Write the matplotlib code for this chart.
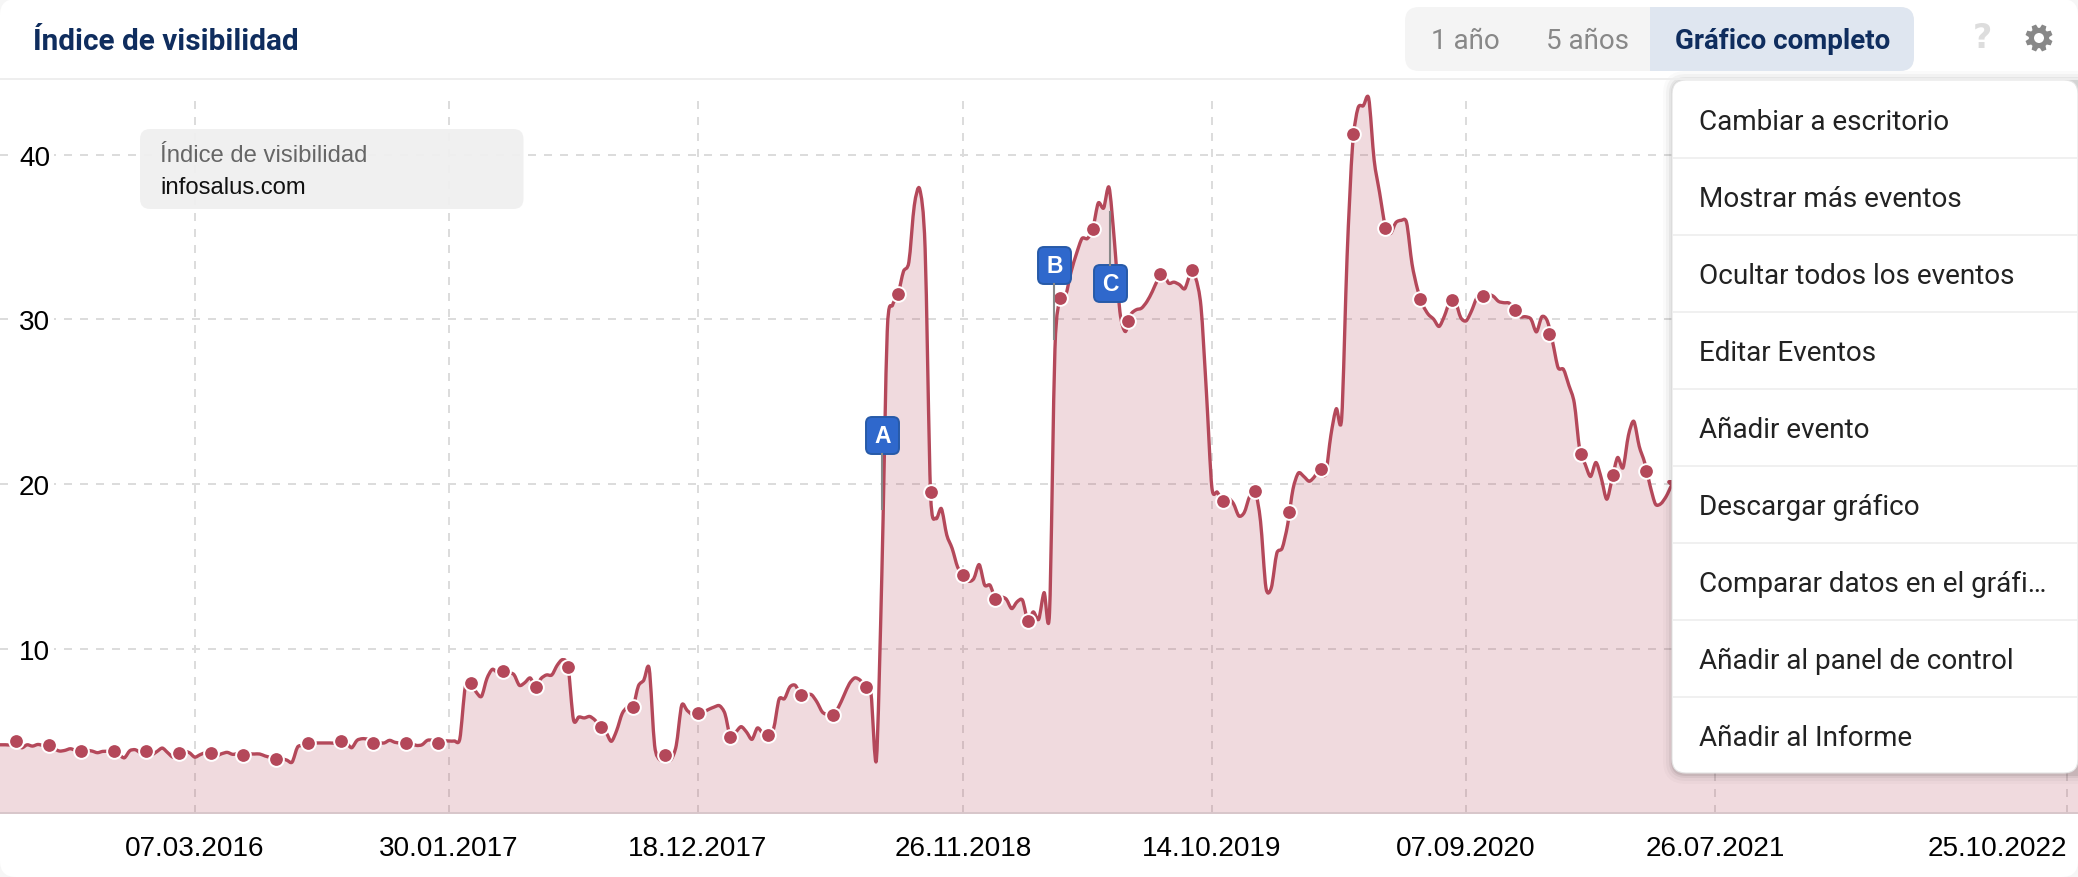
"""Índice de visibilidad chart for infosalus.com, with the toolbar and open menu."""
import matplotlib

matplotlib.use("Agg")
import matplotlib.dates as mdates
import matplotlib.pyplot as plt
import numpy as np
import pandas as pd
from matplotlib.patches import Circle, FancyBboxPatch, PathPatch, Polygon, Rectangle
from matplotlib.path import Path

W, H = 2078, 878
BASE_Y = 814.3     # image row of value 0
PX_PER_UNIT = 16.47
LINE = "#b4485a"
NAVY = "#0f2d5e"
SANS = "Liberation Sans"
ROBOTO = "Roboto"

START = pd.Timestamp("2015-06-29")  # weekly series, one value per Monday

VALUES = [
    4.16, 4.16, 4.16, 4.30, 3.98, 4.16, 4.08, 4.18, 4.12, 4.14,
    3.92, 3.78, 3.82, 3.92, 3.82, 3.78, 3.82, 3.78, 3.68, 3.76,
    3.76, 3.76, 3.56, 3.37, 3.80, 3.86, 3.68, 3.78, 3.56, 3.75,
    3.96, 3.68, 3.41, 3.66, 3.76, 3.68, 3.41, 3.56, 3.68, 3.66,
    3.50, 3.62, 3.70, 3.58, 3.62, 3.54, 3.60, 3.60, 3.60, 3.48,
    3.39, 3.29, 3.31, 3.23, 3.11, 4.02, 4.12, 4.27, 4.27, 4.27,
    4.27, 4.27, 4.27, 4.39, 4.29, 3.98, 4.43, 4.53, 4.49, 4.27,
    4.29, 4.27, 4.43, 4.31, 4.27, 4.27, 4.23, 4.12, 4.16, 4.43,
    4.43, 4.27, 4.39, 4.39, 4.39, 4.53, 7.67, 7.89, 7.37, 7.10,
    8.18, 8.74, 8.54, 8.66, 8.54, 8.42, 7.77, 7.93, 8.22, 7.69,
    8.18, 8.40, 8.40, 8.99, 9.33, 8.89, 5.68, 5.85, 5.79, 5.88,
    5.65, 5.24, 4.93, 4.37, 5.04, 6.05, 6.45, 6.45, 7.73, 8.08,
    8.78, 4.12, 3.25, 3.40, 3.25, 4.12, 6.55, 6.25, 5.99, 6.09,
    6.15, 6.31, 6.45, 6.53, 6.05, 4.65, 4.93, 5.26, 4.93, 4.49,
    5.18, 4.87, 4.77, 5.14, 6.92, 6.96, 7.67, 7.77, 7.20, 7.20,
    7.20, 6.76, 6.15, 5.99, 5.99, 6.45, 7.16, 7.87, 8.22, 8.08,
    7.67, 7.26, 3.27, 14.46, 29.25, 30.87, 31.52, 32.90, 33.47, 36.90,
    37.90, 34.30, 19.48, 17.90, 18.50, 16.90, 16.08, 14.96, 14.46, 14.09,
    14.25, 15.10, 13.86, 13.85, 13.04, 13.14, 13.00, 12.43, 12.84, 12.94,
    11.70, 12.23, 11.78, 13.40, 12.20, 28.20, 31.26, 31.48, 32.90, 34.00,
    34.90, 34.90, 35.50, 37.05, 36.75, 38.00, 34.70, 30.47, 29.25, 30.27,
    30.57, 30.67, 31.07, 31.68, 32.40, 32.80, 32.19, 32.25, 32.10, 31.85,
    32.70, 32.50, 30.75, 25.55, 19.80, 19.50, 19.00, 19.14, 18.80, 18.05,
    18.27, 19.25, 19.57, 17.73, 13.70, 13.70, 15.78, 16.10, 17.50, 19.68,
    20.66, 20.45, 20.16, 20.45, 20.98, 20.55, 22.94, 24.56, 24.00, 33.80,
    40.50, 42.80, 42.96, 43.40, 39.66, 37.70, 35.75, 35.20, 35.86, 36.00,
    35.86, 33.36, 31.84, 30.86, 30.30, 30.00, 29.56, 30.20, 31.08, 31.08,
    30.10, 29.90, 30.50, 31.30, 31.40, 31.50, 31.40, 31.08, 31.00, 30.97,
    30.54, 30.15, 30.15, 30.00, 29.23, 30.15, 29.90, 28.60, 27.06, 26.95,
    25.98, 24.90, 22.07, 21.20, 20.45, 21.30, 20.33, 19.07, 20.33, 21.60,
    20.98, 22.94, 23.80, 22.28, 21.30, 19.90, 18.77, 18.80, 19.25, 19.90,
]
# the end of the series sits behind the menu, only its fill shows below it
HIDDEN_WEEKS = [310, 330, 350, 370, 385]
HIDDEN_VALUES = [20.1, 19.0, 18.0, 17.0, 16.0]

MARKER_WEEKS = [
    3, 9, 15, 21, 27, 33, 39, 45, 51, 57, 63, 69, 75, 81, 87, 93, 99, 105, 111, 117, 123, 129,
    135, 142, 148, 154, 160, 166, 172, 178, 184, 190, 196, 202, 208.5, 214.5, 220.3, 226.1,
    232, 238.3, 244.2, 250.1, 256, 262.4, 268.3, 274.2, 280.1, 286.4, 292.3, 298.2, 304.2,
]
MARKER_VALUES = [
    4.39, 4.14, 3.78, 3.76, 3.78, 3.66, 3.66, 3.54, 3.29, 4.27, 4.39, 4.27, 4.27, 4.27, 7.89,
    8.66, 7.69, 8.89, 5.24, 6.45, 3.56, 6.07, 4.65, 4.77, 7.20, 5.99, 7.67, 31.52, 19.48, 14.46,
    13.04, 11.70, 31.26, 35.50, 29.92, 32.74, 32.96, 18.99, 19.57, 18.27, 20.92, 41.26, 35.53,
    31.25, 31.15, 31.40, 30.54, 29.08, 21.79, 20.55, 20.80,
]

X_LABELS = ["07.03.2016", "30.01.2017", "18.12.2017", "26.11.2018", "14.10.2019",
            "07.09.2020", "26.07.2021", "25.10.2022"]
Y_TICKS = [10, 20, 30, 40]
MENU_ITEMS = ["Cambiar a escritorio", "Mostrar más eventos", "Ocultar todos los eventos",
              "Editar Eventos", "Añadir evento", "Descargar gráfico",
              "Comparar datos en el gráfi…", "Añadir al panel de control", "Añadir al Informe"]
EVENT_LABELS = ["A", "B", "C"]


def week_dates(weeks):
    return mdates.date2num(START) + np.asarray(weeks, dtype=float) * 7


def pixel_axes(fig, zorder):
    """Transparent axes over the whole figure, addressed in image pixels."""
    ax = fig.add_axes([0, 0, 1, 1], zorder=zorder)
    ax.set_xlim(0, W)
    ax.set_ylim(H, 0)
    ax.axis("off")
    return ax


def rounded(ax, x0, y0, x1, y1, radius, **kw):
    box = FancyBboxPatch((x0, y0), x1 - x0, y1 - y0,
                         boxstyle=f"round,pad=0,rounding_size={radius}", **kw)
    ax.add_patch(box)
    return box


def smooth_verts(x, y, k=0.14):
    """Bezier control points of a curve through the points (the site draws a spline)."""
    pts = np.column_stack([x, y])
    tangents = np.gradient(pts, axis=0)
    verts = [pts[0]]
    for i in range(len(pts) - 1):
        verts += [pts[i] + k * tangents[i] * 2, pts[i + 1] - k * tangents[i + 1] * 2, pts[i + 1]]
    return np.array(verts)


def draw_chart(fig):
    y_top = BASE_Y - 100
    ax = fig.add_axes([0, (H - BASE_Y) / H, 1, y_top / H], zorder=1)
    ax.patch.set_alpha(0)
    x = np.concatenate([week_dates(np.arange(len(VALUES))), week_dates(HIDDEN_WEEKS)])
    y = np.array(VALUES + HIDDEN_VALUES)

    verts = smooth_verts(x, y)
    codes = [Path.MOVETO] + [Path.CURVE4] * (len(verts) - 1)
    area = np.vstack([verts, [x[-1], 0], [x[0], 0], verts[0]])
    area_codes = codes + [Path.LINETO, Path.LINETO, Path.CLOSEPOLY]
    ax.add_patch(PathPatch(Path(area, area_codes), fc=LINE, alpha=0.2, lw=0, clip_on=False, zorder=2))
    ax.add_patch(PathPatch(Path(verts, codes), fc="none", ec=LINE, lw=2.4, joinstyle="round",
                           clip_on=False, zorder=3))
    ax.plot(week_dates(MARKER_WEEKS), MARKER_VALUES, ls="none", marker="o", ms=10.6,
            mfc=LINE, mec="white", mew=1.4, clip_on=False, zorder=4)

    ax.set_xlim(week_dates(0), week_dates(W / 5.41))
    ax.set_ylim(0, y_top / PX_PER_UNIT)
    ax.set_axisbelow(True)
    ax.grid(color="#dcdcdc", lw=1.44, ls=(0, (4, 4)))

    ticks = mdates.date2num(pd.to_datetime(X_LABELS, format="%d.%m.%Y"))
    ax.set_xticks(ticks, X_LABELS)
    ax.get_xticklabels()[-1].set_ha("right")
    ax.set_yticks(Y_TICKS)
    ax.tick_params(axis="x", length=0, pad=15.6, labelsize=20.1, labelfontfamily=SANS)
    ax.tick_params(axis="y", length=0, pad=-36, labelsize=20.1, labelfontfamily=SANS)
    for label in ax.get_yticklabels():
        label.set_bbox(dict(fc="white", ec="none", pad=3))

    for side in ("top", "left", "right"):
        ax.spines[side].set_visible(False)
    ax.spines["bottom"].set_color("#d8c6ca")
    ax.spines["bottom"].set_linewidth(1.4)


def draw_gear(ax, cx, cy, color):
    angles, radii = [], []
    for i in range(8):
        mid = i * np.pi / 4 + np.pi / 8
        angles += [mid - 0.30, mid - 0.17, mid + 0.17, mid + 0.30]
        radii += [10.2, 13.8, 13.8, 10.2]
    pts = np.column_stack([cx + np.array(radii) * np.cos(angles),
                           cy + np.array(radii) * np.sin(angles)])
    ax.add_patch(Polygon(pts, closed=True, fc=color, ec="none"))
    ax.add_patch(Circle((cx, cy), 5.0, fc="white", ec="none"))


def draw_header(ax):
    ax.text(33, 41.5, "Índice de visibilidad", family=ROBOTO, weight="bold", size=21.4,
            color=NAVY, va="center")
    ax.plot([0, W], [79.5, 79.5], color="#eeeeee", lw=1.4)

    group = rounded(ax, 1405, 8, 1914, 72, 14, fc="#f4f4f4", ec="none")
    active = Rectangle((1650, 8), 264, 64, fc="#dfe6f0", ec="none")
    ax.add_patch(active)
    active.set_clip_path(group)
    ax.text(1465, 41.5, "1 año", family=ROBOTO, size=20, color="#888888", ha="center", va="center")
    ax.text(1587, 41.5, "5 años", family=ROBOTO, size=20, color="#888888", ha="center", va="center")
    ax.text(1782.5, 41.5, "Gráfico completo", family=ROBOTO, weight="bold", size=20, color=NAVY,
            ha="center", va="center")
    ax.text(1982, 39, "?", family="DejaVu Sans", weight="bold", size=24, color="#dddddd",
            ha="center", va="center")
    draw_gear(ax, 2039, 39, "#888888")


def draw_tooltip(ax):
    rounded(ax, 140, 130, 523.5, 210, 10, fc="#f0f0f0", ec="none", alpha=0.95)
    ax.text(160, 156.5, "Índice de visibilidad", family=SANS, size=17.2, color="#666666", va="center")
    ax.text(160, 187.5, "infosalus.com", family=SANS, size=17.2, color="#111111", va="center")


def draw_events(ax):
    stems = [(882, 455, 510), (1054, 285, 340), (1110, 213, 266)]
    boxes = [(866, 418), (1038, 248), (1094, 266)]
    for label, (sx, s0, s1), (bx, by) in zip(EVENT_LABELS, stems, boxes):
        ax.plot([sx, sx], [s0, s1], color="#888888", lw=1.5)
        rounded(ax, bx, by, bx + 33, by + 37, 6, fc="#2f68cc", ec="#275aa8", lw=1.4)
        ax.text(bx + 16.5, by + 19, label, family=SANS, weight="bold", size=16.5, color="white",
                ha="center", va="center")


def draw_menu(ax):
    for grow, alpha in ((9, 0.02), (6, 0.03), (3, 0.05), (1, 0.07)):
        rounded(ax, 1672 - grow, 81 - grow, W + 20, 774 + grow + 2, 14 + grow,
                fc="black", ec="none", alpha=alpha)
    rounded(ax, 1672, 81, W, 774, 14, fc="white", ec="#e4e4e4", lw=0.8)
    for i, item in enumerate(MENU_ITEMS):
        y = 120.5 + 77.05 * i
        ax.text(1699, y + 2.0, item, family=ROBOTO, size=20.1, color="#222222", va="center")
        if i:
            ax.plot([1673, W], [y - 38.5, y - 38.5], color="#eeeeee", lw=1.2)


def main():
    fig = plt.figure(figsize=(W / 100, H / 100), dpi=100, facecolor="#f6f6f6")

    back = pixel_axes(fig, 0)
    rounded(back, 0, 0, W, H, 16, fc="white", ec="none")

    draw_chart(fig)

    front = pixel_axes(fig, 2)
    draw_tooltip(front)
    draw_events(front)
    draw_header(front)
    draw_menu(front)

    fig.savefig("out.png", dpi=100, facecolor=fig.get_facecolor())


if __name__ == "__main__":
    main()
